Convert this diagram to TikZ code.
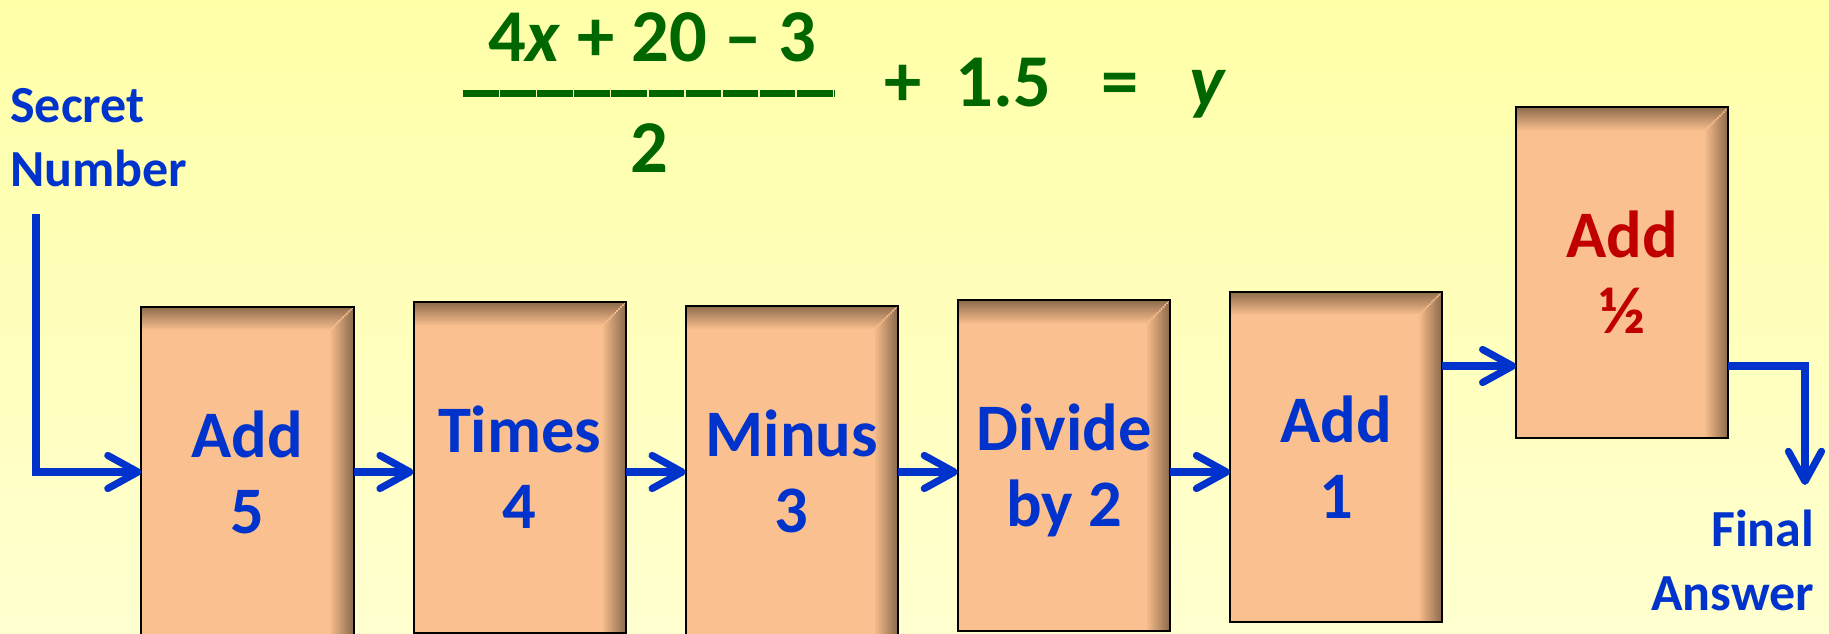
\documentclass[tikz,border=0pt]{standalone}
\usepackage{fontspec}
\setmainfont{Carlito}
\usetikzlibrary{arrows.meta,positioning}
\definecolor{bgtop}{RGB}{255,255,168}
\definecolor{bgbottom}{RGB}{255,255,208}
\definecolor{boxtan}{RGB}{250,192,143}
\definecolor{edgebrown}{RGB}{125,94,66}
\definecolor{flowblue}{RGB}{0,51,204}
\definecolor{halfred}{RGB}{192,0,0}
\definecolor{eqngreen}{RGB}{0,102,0}

\begin{document}
\begin{tikzpicture}[
  x=0.01cm,y=-0.01cm,
  stepbox/.style={rectangle,draw=black,line width=0.02cm,fill=boxtan,outer sep=0pt,
    minimum width=2.12cm,minimum height=3.3cm,inner sep=0pt,align=center,
    text depth=0pt,text=flowblue,font=\fontsize{18.9pt}{21.6pt}\selectfont\bfseries,
    path picture={
      % inner shadow along the top and the right side
      \foreach \k in {1,...,12}{
        \pgfmathsetmacro\depth{0.019*(13-\k)}
        \pgfmathtruncatemacro\tone{7*\k}
        \fill[edgebrown!\tone!boxtan]
          (path picture bounding box.north west) rectangle ([yshift=-\depth cm]path picture bounding box.north east)
          ([xshift=-\depth cm]path picture bounding box.south east) rectangle (path picture bounding box.north east);
      }
    }},
  tag/.style={inner sep=0pt,text=flowblue,font=\fontsize{14.8pt}{18.2pt}\selectfont\bfseries},
  formula/.style={inner sep=0pt,text=eqngreen,font=\fontsize{21.2pt}{25pt}\selectfont\bfseries},
  arr/.style={line width=0.072cm,draw=flowblue,-{Straight Barb[length=0.3cm,width=0.33cm,round]}}
]
\useasboundingbox (0,0) rectangle (1829,634);
\shade[top color=bgtop,bottom color=bgbottom] (0,0) rectangle (1829,634);

% the equation
\node[formula,anchor=base] (numer) at (652,62) {4\textit{x} + 20 – 3};
\draw[eqngreen,line width=0.07cm,dash pattern=on 0.355cm off 0.016cm] (463,94) -- (835,94);
\node[formula,anchor=base] (denom) at (649,173) {2};
\node[formula,anchor=base west] (rhs) at (884,107) {+~~1.5~~~=~~~\textit{y}};

% start and end labels
\node[tag,align=left,anchor=north west] (secret) at (9.5,88) {Secret\\Number};
\node[tag,align=right,anchor=north east] (final) at (1815,509) {Final\\Answer};

% the steps
\node[stepbox] (add5) at (247.5,472) {Add\\5};
\node[stepbox,right=0.6cm of add5,yshift=0.045cm] (times4) {Times\\4};
\node[stepbox,right=0.6cm of times4,yshift=-0.035cm] (minus3) {Minus\\3};
\node[stepbox,right=0.6cm of minus3,yshift=0.055cm] (divide2) {Divide\\by 2};
\node[stepbox,right=0.6cm of divide2,yshift=0.085cm] (add1) {Add\\1};
\node[stepbox,text=halfred,right=0.74cm of add1,yshift=1.844cm] (addhalf) {Add\\½};

\coordinate (flow) at (0,472);
\coordinate (upper) at (0,366);
\coordinate (start) at (36,214);
\coordinate (drop) at (1805,485);

\draw[arr] (start) |- (add5.west |- flow);
\draw[arr] (add5.east |- flow) -- (times4.west |- flow);
\draw[arr] (times4.east |- flow) -- (minus3.west |- flow);
\draw[arr] (minus3.east |- flow) -- (divide2.west |- flow);
\draw[arr] (divide2.east |- flow) -- (add1.west |- flow);
\draw[arr] (add1.east |- upper) -- (addhalf.west |- upper);
\draw[arr] (addhalf.east |- upper) -| (drop);
\end{tikzpicture}
\end{document}
